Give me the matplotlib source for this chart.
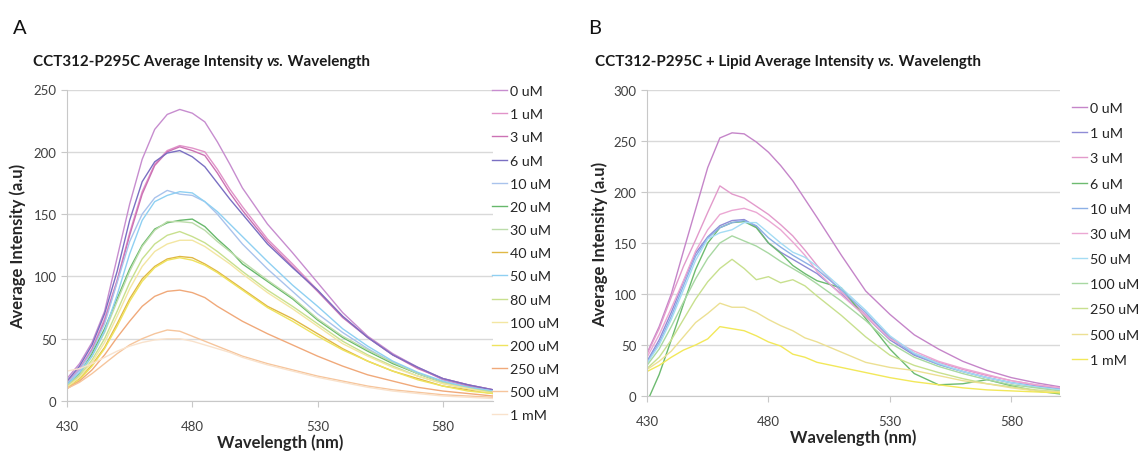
import matplotlib
matplotlib.use("Agg")
import matplotlib.pyplot as plt

plt.rcParams['font.family'] = ['Lato', 'DejaVu Sans']

# wavelength grid (nm)
wl = [430, 435, 440, 445, 450, 455, 460, 465, 470, 475, 480, 485, 490, 495,
      500, 510, 520, 530, 540, 550, 560, 570, 580, 590, 600]

# Panel A: CCT312-P295C
a_labels = ['0 uM', '1 uM', '3 uM', '6 uM', '10 uM', '20 uM', '30 uM', '40 uM',
            '50 uM', '80 uM', '100 uM', '200 uM', '250 uM', '500 uM', '1 mM']
a_colors = ['#c78dcf', '#e193c9', '#cc72b4', '#7a6fc2', '#a9c3ec', '#67b86b',
            '#bcdcaa', '#e0b846', '#8fd0f2', '#c8e08e', '#f3e6a2', '#efe35e',
            '#f0a97a', '#f6c59c', '#f9e2cc']
a_0uM = [18, 30, 47, 72, 115, 158, 194, 218, 230, 234, 231, 224, 208, 190, 171, 142, 119, 95, 71, 52, 38, 27, 17, 12, 8]
a_1uM = [15, 26, 42, 66, 97, 135, 168, 190, 201, 205, 203, 200, 186, 170, 156, 130, 110, 89, 68, 51, 37, 27, 18, 13, 9]
a_3uM = [14, 25, 41, 64, 96, 133, 166, 189, 200, 204, 201, 197, 183, 167, 153, 128, 108, 88, 67, 51, 37, 26, 18, 13, 9]
a_6uM = [16, 28, 45, 70, 104, 145, 176, 192, 199, 201, 196, 188, 175, 162, 150, 126, 107, 89, 68, 51, 37, 27, 18, 13, 9]
a_10uM = [14, 25, 40, 62, 95, 128, 150, 163, 169, 166, 165, 160, 150, 138, 126, 106, 88, 70, 55, 42, 31, 22, 15, 11, 8]
a_20uM = [13, 22, 38, 58, 82, 106, 125, 138, 143, 145, 146, 140, 130, 121, 110, 96, 82, 65, 51, 40, 30, 22, 15, 11, 7]
a_30uM = [12, 21, 36, 55, 80, 104, 124, 137, 144, 144, 143, 137, 128, 120, 112, 97, 83, 66, 52, 41, 31, 22, 15, 11, 7]
a_40uM = [11, 18, 29, 43, 62, 82, 98, 108, 114, 116, 115, 110, 104, 97, 90, 76, 66, 54, 42, 32, 24, 18, 12, 9, 6]
a_50uM = [13, 23, 36, 56, 85, 118, 145, 160, 165, 168, 167, 160, 152, 142, 132, 112, 93, 76, 58, 44, 32, 23, 16, 11, 8]
a_80uM = [12, 20, 33, 50, 72, 95, 114, 126, 133, 136, 132, 127, 120, 112, 104, 89, 76, 62, 48, 37, 28, 20, 14, 10, 7]
a_100uM = [11, 19, 31, 47, 68, 90, 108, 120, 126, 129, 129, 124, 117, 110, 102, 87, 74, 60, 46, 36, 27, 20, 14, 10, 6]
a_200uM = [10, 17, 28, 42, 60, 80, 96, 107, 113, 115, 113, 109, 103, 96, 89, 75, 64, 52, 41, 32, 24, 17, 12, 8, 6]
a_250uM = [10, 16, 25, 37, 51, 64, 76, 84, 88, 89, 87, 83, 76, 70, 64, 54, 45, 36, 28, 21, 16, 11, 8, 6, 4]
a_500uM = [10, 15, 22, 30, 38, 45, 50, 54, 57, 56, 52, 48, 44, 40, 36, 30, 25, 20, 16, 12, 9, 7, 5, 4, 3]
a_1mM = [24, 26, 30, 35, 40, 44, 47, 49, 50, 50, 48, 45, 42, 39, 35, 29, 24, 19, 15, 11, 8, 6, 4, 3, 2]
a_series = [a_0uM, a_1uM, a_3uM, a_6uM, a_10uM, a_20uM, a_30uM, a_40uM,
            a_50uM, a_80uM, a_100uM, a_200uM, a_250uM, a_500uM, a_1mM]

# Panel B: CCT312-P295C + Lipid
b_labels = ['0 uM', '1 uM', '3 uM', '6 uM', '10 uM', '30 uM', '50 uM',
            '100 uM', '250 uM', '500 uM', '1 mM']
b_colors = ['#c585c9', '#8f8cd6', '#e29acb', '#6dbb70', '#8cb0e6', '#eba7d3',
            '#a4dcf4', '#a8d8a2', '#c8e08e', '#ece093', '#f2e859']
b_0uM = [42, 68, 100, 142, 183, 224, 253, 258, 257, 249, 239, 226, 211, 193, 175, 138, 103, 80, 60, 46, 34, 25, 18, 13, 9]
b_1uM = [34, 55, 82, 112, 140, 156, 167, 172, 173, 166, 150, 141, 134, 127, 120, 100, 78, 55, 40, 31, 24, 18, 13, 10, 7]
b_3uM = [41, 66, 97, 127, 153, 180, 206, 198, 194, 186, 178, 168, 157, 143, 128, 102, 80, 58, 42, 33, 26, 20, 15, 11, 8]
b_6uM = [-6, 21, 55, 90, 124, 150, 165, 170, 171, 165, 150, 140, 128, 120, 113, 106, 76, 46, 22, 11, 12, 16, 10, 5, 2]
b_10uM = [33, 52, 78, 108, 137, 155, 165, 170, 172, 167, 155, 146, 138, 131, 124, 104, 82, 57, 41, 31, 24, 18, 13, 9, 7]
b_30uM = [38, 60, 86, 113, 142, 163, 178, 182, 184, 180, 172, 163, 151, 138, 122, 99, 78, 56, 44, 34, 27, 21, 15, 11, 8]
b_50uM = [32, 50, 75, 104, 133, 154, 160, 163, 170, 170, 160, 150, 141, 136, 127, 106, 84, 59, 42, 32, 24, 18, 13, 9, 6]
b_100uM = [30, 46, 68, 92, 115, 135, 150, 157, 152, 147, 140, 132, 125, 118, 110, 93, 74, 52, 38, 29, 22, 16, 11, 8, 5]
b_250uM = [27, 38, 55, 75, 95, 112, 125, 134, 125, 114, 117, 111, 114, 108, 98, 79, 58, 40, 30, 23, 17, 12, 9, 6, 4]
b_500uM = [26, 34, 44, 58, 72, 81, 91, 87, 87, 82, 75, 69, 64, 57, 53, 43, 33, 28, 25, 20, 15, 12, 8, 5, 4]
b_1mM = [24, 30, 38, 45, 50, 56, 68, 66, 64, 59, 53, 49, 41, 38, 33, 28, 23, 18, 14, 11, 8, 6, 5, 4, 3]
b_series = [b_0uM, b_1uM, b_3uM, b_6uM, b_10uM, b_30uM, b_50uM,
            b_100uM, b_250uM, b_500uM, b_1mM]

W, H = 1140, 452
fig = plt.figure(figsize=(W / 100, H / 100), dpi=100)
renderer = fig.canvas.get_renderer()


def fx(px):
    return px / W


def fy(py):
    return 1 - py / H


def style_axes(ax, ymax, ypad):
    ax.set_xlim(430, 600)
    ax.set_ylim(0, ymax)
    ax.set_xticks([430, 480, 530, 580])
    ax.set_yticks(range(0, ymax + 1, 50))
    ax.grid(axis='y', color='#d9d9d9', lw=1.0)
    ax.set_axisbelow(True)
    for s in ['top', 'right']:
        ax.spines[s].set_visible(False)
    for s in ['left', 'bottom']:
        ax.spines[s].set_color('#c8c8c8')
    ax.tick_params(axis='both', colors='#c8c8c8', labelcolor='#404040',
                   labelsize=9.5, length=4)
    ax.tick_params(axis='x', pad=10)
    ax.set_xlabel('Wavelength (nm)', fontsize=12, fontweight='bold',
                  color='#262626', labelpad=0.5)
    ax.set_ylabel('Average Intensity (a.u)', fontsize=12, fontweight='bold',
                  color='#262626', labelpad=ypad)


def title_pieces(x0, yc, pieces, size):
    # draw text pieces one after another (to get the italic "vs.")
    x = x0
    for txt, style in pieces:
        t = fig.text(fx(x), fy(yc), txt, fontsize=size, fontweight='bold',
                     style=style, va='center', color='#1a1a1a')
        x += t.get_window_extent(renderer).width


# Panel A
axA = fig.add_axes([fx(67), fy(402), fx(493 - 67), (402 - 90.5) / H])
for vals, c, lab in zip(a_series, a_colors, a_labels):
    axA.plot(wl, vals, color=c, lw=1.0, label=lab)
style_axes(axA, 250, 5)
axA.legend(loc='upper left', bbox_to_anchor=(fx(492), fy(86)),
           bbox_transform=fig.transFigure, frameon=False, fontsize=10.3,
           handlelength=1.05, handletextpad=0.2, labelspacing=0.78,
           borderpad=0, borderaxespad=0, labelcolor='#262626')

# Panel B
axB = fig.add_axes([fx(647), fy(397), fx(1060 - 647), (397 - 91) / H])
for vals, c, lab in zip(b_series, b_colors, b_labels):
    axB.plot(wl, vals, color=c, lw=1.0, label=lab)
style_axes(axB, 300, 4)
axB.legend(loc='upper left', bbox_to_anchor=(fx(1072), fy(103)),
           bbox_transform=fig.transFigure, frameon=False, fontsize=10.3,
           handlelength=1.05, handletextpad=0.2, labelspacing=0.92,
           borderpad=0, borderaxespad=0, labelcolor='#262626')

# panel letters and titles
fig.text(fx(13), fy(29), 'A', fontsize=14.5, va='center', color='#111111')
fig.text(fx(588), fy(29), 'B', fontsize=14.5, va='center', color='#111111')
title_pieces(33, 62, [('CCT312-P295C Average Intensity ', 'normal'),
                      ('vs.', 'italic'), (' Wavelength', 'normal')], 10.9)
title_pieces(595, 62, [('CCT312-P295C + Lipid Average Intensity ', 'normal'),
                       ('vs.', 'italic'), (' Wavelength', 'normal')], 10.9)

fig.savefig('out.png', dpi=100)
